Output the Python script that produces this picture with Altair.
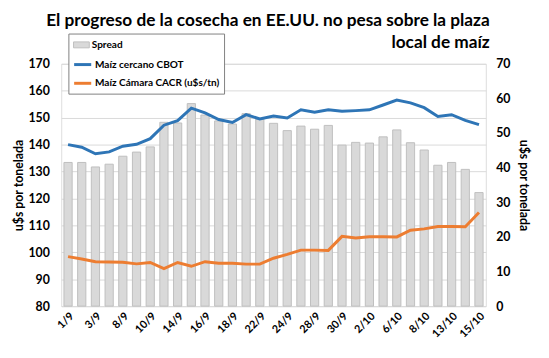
import altair as alt
import pandas as pd

dates = ["1/9", "2/9", "3/9", "4/9", "8/9", "9/9", "10/9", "11/9", "14/9", "15/9",
         "16/9", "17/9", "18/9", "21/9", "22/9", "23/9", "24/9", "25/9", "28/9", "29/9",
         "30/9", "1/10", "2/10", "5/10", "6/10", "7/10", "8/10", "9/10", "13/10", "14/10",
         "15/10"]
spread = [41.5, 41.5, 40.2, 41.0, 43.3, 44.5, 46.0, 53.1, 52.9, 58.5,
          55.2, 53.5, 52.6, 55.6, 54.0, 52.8, 50.7, 52.0, 51.1, 52.2,
          46.5, 47.3, 47.1, 48.9, 50.9, 47.2, 45.1, 40.7, 41.5, 39.5,
          32.8]
cbot = [140.0, 139.0, 136.6, 137.3, 139.4, 140.1, 142.2, 147.2, 148.9, 153.5,
        151.8, 149.3, 148.2, 151.1, 149.5, 150.6, 149.9, 152.9, 152.0, 152.9,
        152.4, 152.6, 152.9, 154.7, 156.5, 155.5, 153.7, 150.4, 151.1, 149.0,
        147.4]
cacr = [98.4, 97.5, 96.5, 96.4, 96.3, 95.7, 96.2, 93.9, 96.2, 94.8,
        96.5, 95.9, 95.9, 95.6, 95.6, 97.8, 99.2, 100.8, 100.8, 100.7,
        105.9, 105.3, 105.8, 105.8, 105.7, 108.2, 108.7, 109.6, 109.6, 109.5,
        114.8]
label_dates = dates[::2]
series_names = ["Maíz cercano CBOT", "Maíz Cámara CACR (u$s/tn)"]
series_colors = ["#2e75b6", "#ed7d31"]
left_ticks = list(range(80, 171, 10))
right_ticks = list(range(0, 71, 10))
title_lines = ["El progreso de la cosecha en EE.UU. no pesa sobre la plaza", "local de maíz"]
axis_title = "u$s por tonelada"

df = pd.DataFrame({
    "fecha": dates,
    "Spread": spread,
    series_names[0]: cbot,
    series_names[1]: cacr,
})
df["s"] = "Spread"

FONT = "Lato"
W, H = 431, 246

x_enc = alt.X(
    "fecha:N", sort=dates,
    scale=alt.Scale(paddingInner=0.4, paddingOuter=0.2),
    axis=alt.Axis(values=label_dates, labelAngle=-45, title=None, ticks=False, tickSize=0,
                  domain=False, labelFont=FONT, labelFontWeight="bold", labelFontSize=11,
                  labelColor="#000000", labelPadding=4),
)

bars = alt.Chart(df).mark_bar(stroke="#bfbfbf", strokeWidth=1).encode(
    x=x_enc,
    y=alt.Y("Spread:Q", scale=alt.Scale(domain=[0, 70], nice=False),
            axis=alt.Axis(orient="right", values=right_ticks, grid=False, ticks=False, tickSize=0,
                          domain=False, labelFont=FONT, labelFontWeight="bold", labelFontSize=12.5,
                          labelColor="#000000", labelPadding=10, labelAlign="left",
                          title=axis_title, titleFont=FONT, titleFontWeight="bold",
                          titleFontSize=12.5, titleColor="#000000", titleAngle=90,
                          titleX=38, titleY=H / 2, titleAlign="center", titleBaseline="middle")),
    fill=alt.Fill("s:N", scale=alt.Scale(domain=["Spread"], range=["#d9d9d9"]),
                  legend=alt.Legend(orient="none", legendX=12, legendY=-27.7, title=None,
                                    symbolType="M-1,-0.375H1V0.375H-1Z", symbolSize=256,
                                    symbolStrokeColor="#bfbfbf", symbolStrokeWidth=1,
                                    labelFont=FONT, labelFontWeight="bold", labelFontSize=10.2,
                                    labelColor="#000000", labelOffset=2, padding=0, zindex=3)),
)

lines = alt.Chart(df).transform_fold(series_names, as_=["serie", "valor"]).mark_line(
    strokeWidth=3
).encode(
    x=x_enc,
    y=alt.Y("valor:Q", scale=alt.Scale(domain=[80, 170], nice=False),
            axis=alt.Axis(orient="left", values=left_ticks, grid=True, gridColor="#d9d9d9",
                          gridWidth=1, ticks=False, tickSize=0, domain=False,
                          labelFont=FONT, labelFontWeight="bold", labelFontSize=12.5,
                          labelColor="#000000", labelPadding=12,
                          title=axis_title, titleFont=FONT, titleFontWeight="bold",
                          titleFontSize=12.5, titleColor="#000000", titleAngle=-90,
                          titleX=-43, titleY=H / 2, titleAlign="center", titleBaseline="middle")),
    stroke=alt.Stroke("serie:N", sort=series_names,
                      scale=alt.Scale(domain=series_names, range=series_colors),
                      legend=alt.Legend(orient="none", legendX=7.3, legendY=-30.7, title="\u00a0",
                                        titleFontSize=11, titlePadding=6,
                                        symbolType="stroke", symbolSize=300, symbolStrokeWidth=3,
                                        labelFont=FONT, labelFontWeight="bold", labelFontSize=10.2,
                                        labelColor="#000000", labelOffset=2, rowPadding=2,
                                        padding=4, fillColor="#ffffff", strokeColor="#808080",
                                        zindex=1)),
)

chart = alt.layer(bars, lines).resolve_scale(y="independent", fill="independent",
                                               stroke="independent").properties(
    width=W, height=H,
    title=alt.Title(text=title_lines, anchor="end", align="right", frame="group",
                    font=FONT, fontWeight="bold", fontSize=17.5, color="#000000",
                    lineHeight=23, dx=4, dy=23),
    autosize=alt.AutoSizeParams(type="none"),
    padding={"left": 54, "top": 54, "right": 56, "bottom": 50},
).configure_view(stroke=None).configure(background="#ffffff")

chart.save("out.html", embed_options={"renderer": "svg", "actions": False})
